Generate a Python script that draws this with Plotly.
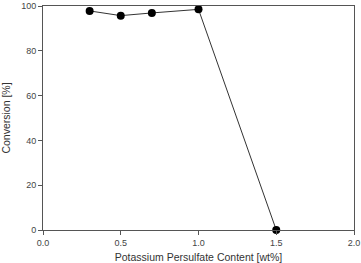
import plotly.graph_objects as go

kps_content = [0.3, 0.5, 0.7, 1.0, 1.5]
conversion = [97.8, 95.7, 96.9, 98.5, 0.0]
x_ticks = [0.0, 0.5, 1.0, 1.5, 2.0]
x_tick_labels = ["0.0", "0.5", "1.0", "1.5", "2.0"]
y_ticks = [0, 20, 40, 60, 80, 100]

fig = go.Figure()
fig.add_trace(go.Scatter(
    x=kps_content, y=conversion, mode="lines+markers",
    line=dict(color="#333333", width=1),
    marker=dict(color="black", size=8),
    cliponaxis=False, showlegend=False,
))

axis_common = dict(
    showgrid=False, zeroline=False, showline=True, linecolor="#555555",
    linewidth=1, mirror=True, ticks="outside", ticklen=4, tickcolor="#555555",
    automargin=False,
    tickfont=dict(family="Liberation Sans, Arial", size=9, color="#444444"),
)
fig.update_xaxes(range=[0, 2], tickvals=x_ticks, ticktext=x_tick_labels,
                 ticklabeloverflow="allow",
                 title=dict(text="Potassium Persulfate Content [wt%]", standoff=17,
                            font=dict(family="Liberation Sans, Arial", size=10.5, color="#333333")),
                 **axis_common)
fig.update_yaxes(range=[0, 100], tickvals=y_ticks,
                 title=dict(text="Conversion [%]", standoff=12,
                            font=dict(family="Liberation Sans, Arial", size=10.5, color="#333333")),
                 **axis_common)
fig.update_layout(
    width=361, height=263, margin=dict(l=43, r=7, t=6, b=33),
    paper_bgcolor="white", plot_bgcolor="white",
)
fig.write_html("out.html")
